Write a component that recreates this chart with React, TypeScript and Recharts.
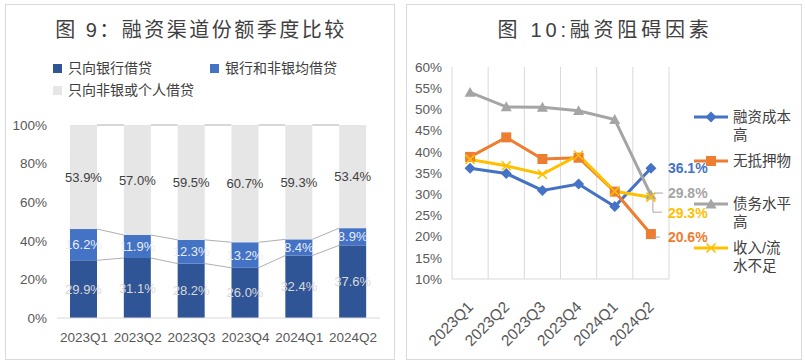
import React from 'react';
import {
  BarChart, Bar, XAxis, YAxis, LabelList, Legend,
  LineChart, Line, CartesianGrid,
} from 'recharts';

// ---------- data ----------
const quarters = ['2023Q1', '2023Q2', '2023Q3', '2023Q4', '2024Q1', '2024Q2'];

// 图9 融资渠道份额 (%)
const bankOnly = [29.9, 31.1, 28.2, 26.0, 32.4, 37.6];
const bankAndNonBank = [16.2, 11.9, 12.3, 13.2, 8.4, 8.9];
const nonBankOnly = [53.9, 57.0, 59.5, 60.7, 59.3, 53.4];
const shareNames = ['只向银行借贷', '银行和非银均借贷', '只向非银或个人借贷'];
const shareTicks = [0, 0.2, 0.4, 0.6, 0.8, 1];

// 图10 融资阻碍因素 (%)
const costHigh = [36.1, 34.9, 30.9, 32.4, 27.1, 36.1];
const noCollateral = [38.8, 43.4, 38.3, 38.6, 30.6, 20.6];
const debtHigh = [54.0, 50.6, 50.5, 49.7, 47.6, 29.8];
const lowIncome = [38.2, 36.7, 34.7, 39.2, 30.7, 29.3];
const obstacleNames = ['融资成本高', '无抵押物', '债务水平高', '收入/流水不足'];
const obstacleTicks = [10, 15, 20, 25, 30, 35, 40, 45, 50, 55, 60];

const FONT = "'Liberation Sans', 'Noto Sans CJK SC', sans-serif";
const TXT = '#595959';

// ---------- left chart ----------
const shareData = quarters.map((q, i) => ({
  q, bank: bankOnly[i], both: bankAndNonBank[i], nonbank: nonBankOnly[i],
}));
const seriesArrays = [bankOnly, bankAndNonBank, nonBankOnly];
const totals = quarters.map((_, i) => seriesArrays.reduce((s, a) => s + a[i], 0));
const cumFrac = (k: number, i: number) => {
  let s = 0;
  for (let j = 0; j <= k; j++) s += seriesArrays[j][i];
  return s / totals[i];
};

const L_W = 390, L_H = 356;
const L_MARGIN = { top: 121, right: 15, bottom: 12, left: 0 };
const L_YW = 52;
const L_PLOT_W = L_W - L_MARGIN.left - L_MARGIN.right - L_YW;
const BAR_STEP = L_PLOT_W / quarters.length;

const BAR_COLORS = ['#2F5597', '#4472C4', '#E7E6E6'];

const makeBarShape = (k: number) => (p: any) => {
  const { x, y, width, height, index } = p;
  const frac = seriesArrays[k][index] / totals[index];
  let line = null;
  if (index < quarters.length - 1 && frac > 0) {
    const px = height / frac;
    const base = y + cumFrac(k, index) * px;
    const ny = base - cumFrac(k, index + 1) * px;
    line = (
      <line x1={x + width} y1={y} x2={x + BAR_STEP} y2={ny} stroke="#A6A6A6" strokeWidth={0.9} />
    );
  }
  return (
    <g>
      <rect x={x} y={y} width={width} height={height} fill={BAR_COLORS[k]} />
      {line}
    </g>
  );
};

const pct1 = (v: any) => `${Number(v).toFixed(1)}%`;

const ShareLegend = () => {
  const item = (k: number, left: number, top: number) => (
    <div key={k} style={{ position: 'absolute', left, top, display: 'flex', alignItems: 'center', whiteSpace: 'nowrap' }}>
      <span style={{ display: 'inline-block', width: 9, height: 9, background: BAR_COLORS[k], marginRight: 6 }} />
      <span style={{ fontSize: 14, color: '#404040', fontFamily: FONT, lineHeight: '18px' }}>{shareNames[k]}</span>
    </div>
  );
  return (
    <div style={{ position: 'relative', width: 380, height: 50 }}>
      {item(0, 0, 0)}
      {item(1, 157, 0)}
      {item(2, 0, 22)}
    </div>
  );
};

// ---------- right chart ----------
const obstacleData = quarters.map((q, i) => ({
  q, cost: costHigh[i], coll: noCollateral[i], debt: debtHigh[i], income: lowIncome[i],
}));
const LINE_COLORS = ['#4472C4', '#ED7D31', '#A5A5A5', '#FFC000'];

const R_W = 396, R_H = 356;
const R_MARGIN = { top: 63, right: 133, bottom: 11, left: 0 };
const R_YW = 46;

const Diamond = (p: any) => {
  const { cx, cy } = p;
  if (cx == null || cy == null) return null;
  const r = 5.5;
  return <path d={`M${cx},${cy - r}L${cx + r},${cy}L${cx},${cy + r}L${cx - r},${cy}Z`} fill={LINE_COLORS[0]} />;
};
const Square = (p: any) => {
  const { cx, cy } = p;
  if (cx == null || cy == null) return null;
  const r = 5;
  return <rect x={cx - r} y={cy - r} width={2 * r} height={2 * r} fill={LINE_COLORS[1]} />;
};
const Triangle = (p: any) => {
  const { cx, cy } = p;
  if (cx == null || cy == null) return null;
  const r = 5.5;
  return <path d={`M${cx},${cy - r}L${cx + r},${cy + r * 0.8}L${cx - r},${cy + r * 0.8}Z`} fill={LINE_COLORS[2]} />;
};
const Cross = (p: any) => {
  const { cx, cy } = p;
  if (cx == null || cy == null) return null;
  const r = 4.5;
  return (
    <path d={`M${cx - r},${cy - r}L${cx + r},${cy + r}M${cx - r},${cy + r}L${cx + r},${cy - r}`}
      stroke={LINE_COLORS[3]} strokeWidth={1.6} fill="none" />
  );
};

const labelCfg = [
  { dy: 0, leader: null as null | ((x: number, y: number) => string) },
  { dy: 3, leader: (x: number, y: number) => `M${x + 3},${y + 3}L${x + 9},${y + 3}` },
  { dy: -2, leader: (x: number, y: number) => `M${x + 4},${y - 2}L${x + 12},${y - 2}` },
  { dy: 16, leader: (x: number, y: number) => `M${x + 2},${y + 3}L${x + 2},${y + 15}L${x + 11},${y + 15}` },
];

const makeEndLabel = (k: number) => (p: any) => {
  const { x, y, index, value } = p;
  if (index !== quarters.length - 1 || x == null || y == null) return null;
  const cfg = labelCfg[k];
  return (
    <g>
      {cfg.leader && <path d={cfg.leader(x, y)} stroke="#A6A6A6" strokeWidth={1} fill="none" />}
      <text x={x + 17} y={y + cfg.dy} dominantBaseline="central" fill={LINE_COLORS[k]}
        fontSize={14} fontWeight="bold" fontFamily={FONT}>{pct1(value)}</text>
    </g>
  );
};

const RotTick = (p: any) => {
  const { x, y, payload } = p;
  const tx = x + 4, ty = y + 21;
  return (
    <text x={tx} y={ty} transform={`rotate(-45 ${tx} ${ty})`} textAnchor="end"
      fill={TXT} fontSize={15.5} fontFamily={FONT}>{payload.value}</text>
  );
};

const ObstacleLegend = () => (
  <div style={{ position: 'relative', width: 110, height: 180 }}>
    {obstacleNames.map((n, k) => {
      const markers = [
        <path key="m" d="M17,3.5L22.5,9L17,14.5L11.5,9Z" fill={LINE_COLORS[0]} />,
        <rect key="m" x={12} y={4} width={10} height={10} fill={LINE_COLORS[1]} />,
        <path key="m" d="M17,3.5L22.5,13.4L11.5,13.4Z" fill={LINE_COLORS[2]} />,
        <path key="m" d="M12.5,4.5L21.5,13.5M12.5,13.5L21.5,4.5" stroke={LINE_COLORS[3]} strokeWidth={1.6} />,
      ];
      return (
        <div key={n} style={{ position: 'absolute', left: 0, top: k * 43.7, display: 'flex', alignItems: 'flex-start' }}>
          <svg width={34} height={18} style={{ display: 'block', flex: 'none' }}>
            <line x1={0} y1={9} x2={34} y2={9} stroke={LINE_COLORS[k]} strokeWidth={3} />
            {markers[k]}
          </svg>
          <div style={{ marginLeft: 5, width: 62, fontSize: 14.5, lineHeight: '18px', color: '#404040', fontFamily: FONT, wordBreak: 'break-all' }}>{n}</div>
        </div>
      );
    })}
  </div>
);

export default function App() {
  const titleStyle: React.CSSProperties = {
    position: 'absolute', fontFamily: FONT, fontSize: 20, color: '#404040',
    whiteSpace: 'nowrap', transform: 'translateX(-50%)', lineHeight: '24px',
  };
  return (
    <div style={{ position: 'absolute', left: 0, top: 0, width: 805, height: 362, background: '#fff', fontFamily: FONT }}>
      <div style={{ position: 'absolute', left: 5, top: 4, width: 390, height: 356, boxSizing: 'border-box', border: '1px solid #D9D9D9' }} />
      <div style={{ position: 'absolute', left: 406, top: 4, width: 396, height: 356, boxSizing: 'border-box', border: '1px solid #D9D9D9' }} />

      <div style={{ ...titleStyle, left: 201, top: 18, letterSpacing: 2.5 }}>图 9：融资渠道份额季度比较</div>
      <div style={{ ...titleStyle, left: 605, top: 18, letterSpacing: 3.8 }}>图 10:融资阻碍因素</div>

      <div style={{ position: 'absolute', left: 5, top: 4 }}>
        <BarChart width={L_W} height={L_H} data={shareData} margin={L_MARGIN} stackOffset="expand" barSize={27}>
          <XAxis dataKey="q" tickLine={false} axisLine={{ stroke: '#D9D9D9' }} tickMargin={8} height={30}
            tick={{ fill: TXT, fontSize: 13.5, fontFamily: FONT }} interval={0} />
          <YAxis width={L_YW} domain={[0, 1]} ticks={shareTicks} tickLine={false} axisLine={false} tickMargin={4}
            tickFormatter={(v: number) => `${Math.round(v * 100)}%`} tick={{ fill: TXT, fontSize: 13.5, fontFamily: FONT }} />
          <Legend layout="vertical" align="center" verticalAlign="middle" content={<ShareLegend />}
            wrapperStyle={{ position: 'absolute', left: 48, top: 55, width: 380, height: 50 }} />
          <Bar dataKey="bank" name={shareNames[0]} stackId="s" fill={BAR_COLORS[0]} shape={makeBarShape(0)} isAnimationActive={false}>
            <LabelList dataKey="bank" position="center" formatter={pct1} fill="#D9D9D9" fontSize={13} fontFamily={FONT} />
          </Bar>
          <Bar dataKey="both" name={shareNames[1]} stackId="s" fill={BAR_COLORS[1]} shape={makeBarShape(1)} isAnimationActive={false}>
            <LabelList dataKey="both" position="center" formatter={pct1} fill="#E8EEF8" fontSize={13} fontFamily={FONT} />
          </Bar>
          <Bar dataKey="nonbank" name={shareNames[2]} stackId="s" fill={BAR_COLORS[2]} shape={makeBarShape(2)} isAnimationActive={false}>
            <LabelList dataKey="nonbank" position="center" formatter={pct1} fill="#404040" fontSize={13} fontFamily={FONT} />
          </Bar>
        </BarChart>
      </div>

      <div style={{ position: 'absolute', left: 406, top: 4 }}>
        <LineChart width={R_W} height={R_H} data={obstacleData} margin={R_MARGIN}>
          <CartesianGrid horizontal={false} stroke="#D9D9D9"
            verticalCoordinatesGenerator={(props: any) => {
              const o = props && props.offset;
              const left = o ? o.left : R_MARGIN.left + R_YW;
              const w = o ? o.width : R_W - R_MARGIN.left - R_MARGIN.right - R_YW;
              return quarters.map((_, i) => left + (i * w) / quarters.length).concat([left + w]);
            }} />
          <XAxis dataKey="q" scale="band" tickLine={false} axisLine={{ stroke: '#D9D9D9' }} height={70}
            interval={0} tick={<RotTick />} />
          <YAxis width={R_YW} domain={[10, 60]} ticks={obstacleTicks} tickLine={false} axisLine={false} tickMargin={4}
            tickFormatter={(v: number) => `${v}%`} tick={{ fill: TXT, fontSize: 13.5, fontFamily: FONT }} />
          <Legend layout="vertical" align="center" verticalAlign="middle" content={<ObstacleLegend />}
            wrapperStyle={{ position: 'absolute', left: 288, top: 104, width: 110, height: 180 }} />
          <Line dataKey="cost" name={obstacleNames[0]} stroke={LINE_COLORS[0]} strokeWidth={3}
            dot={(p: any) => <Diamond key={`d0-${p.index}`} {...p} />} isAnimationActive={false}>
            <LabelList dataKey="cost" content={makeEndLabel(0)} />
          </Line>
          <Line dataKey="coll" name={obstacleNames[1]} stroke={LINE_COLORS[1]} strokeWidth={3}
            dot={(p: any) => <Square key={`d1-${p.index}`} {...p} />} isAnimationActive={false}>
            <LabelList dataKey="coll" content={makeEndLabel(1)} />
          </Line>
          <Line dataKey="debt" name={obstacleNames[2]} stroke={LINE_COLORS[2]} strokeWidth={3}
            dot={(p: any) => <Triangle key={`d2-${p.index}`} {...p} />} isAnimationActive={false}>
            <LabelList dataKey="debt" content={makeEndLabel(2)} />
          </Line>
          <Line dataKey="income" name={obstacleNames[3]} stroke={LINE_COLORS[3]} strokeWidth={3}
            dot={(p: any) => <Cross key={`d3-${p.index}`} {...p} />} isAnimationActive={false}>
            <LabelList dataKey="income" content={makeEndLabel(3)} />
          </Line>
        </LineChart>
      </div>
    </div>
  );
}
